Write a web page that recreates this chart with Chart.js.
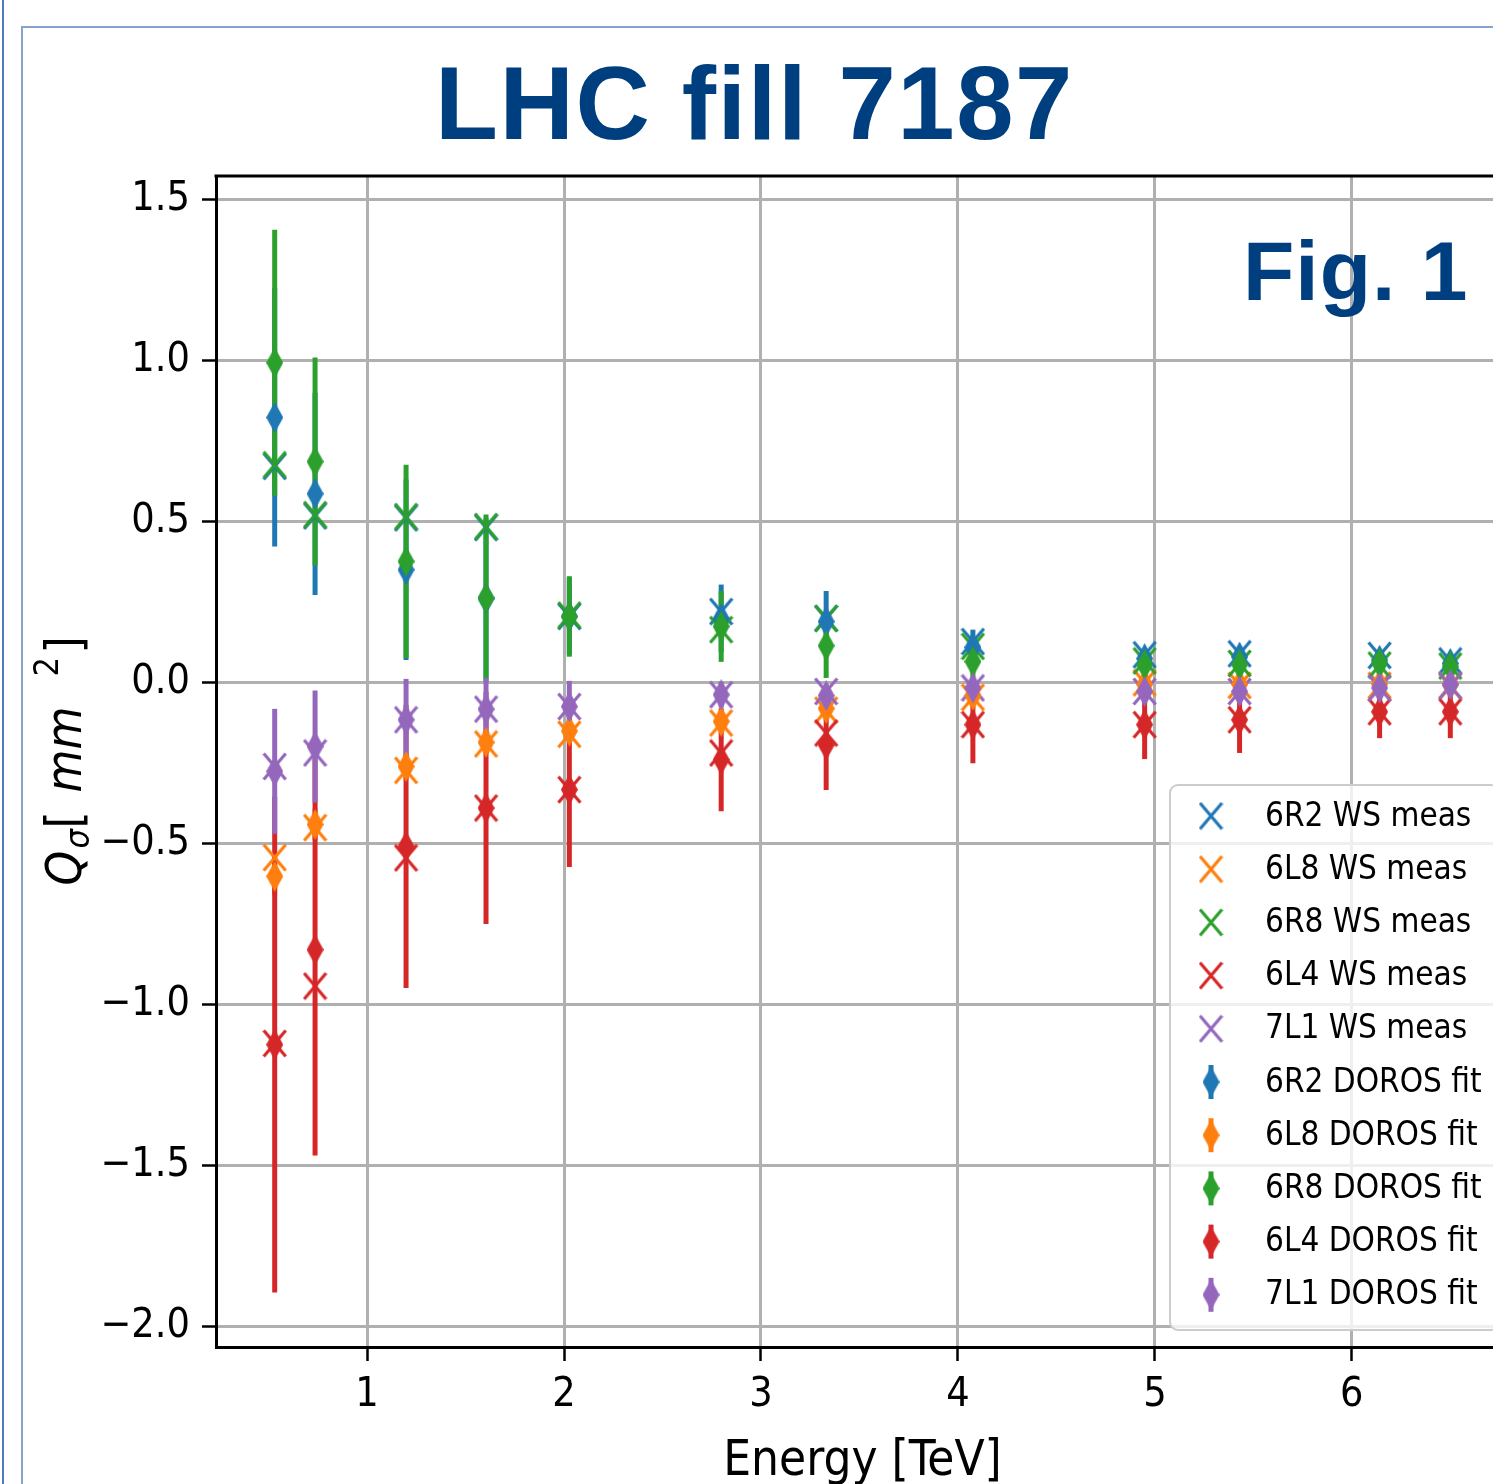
<!DOCTYPE html>
<html>
<head>
<meta charset="utf-8">
<script src="https://cdn.jsdelivr.net/npm/chart.js@4.4.0/dist/chart.umd.min.js"></script>
<style>
html, body { margin: 0; padding: 0; background: #fff; overflow: hidden; width: 1493px; height: 1484px; }
#outerLine { position: absolute; left: 2px; top: 0; width: 2px; height: 1484px; background: #4f7bbd; }
#frame { position: absolute; left: 21px; top: 26px; width: 1600px; height: 1600px; border-left: 2px solid #86a3d0; border-top: 2px solid #86a3d0; }
#slideTitle { position: absolute; left: 435px; top: 52px; font: bold 103px "Liberation Sans", Arial, sans-serif; letter-spacing: 1.6px; line-height: 1; color: #003f7f; white-space: nowrap; }
#figLabel { position: absolute; left: 1243px; top: 229px; font: bold 84px "Liberation Sans", Arial, sans-serif; letter-spacing: 1px; line-height: 1; color: #003f7f; white-space: nowrap; z-index: 2; }
#chart { position: absolute; left: 0; top: 0; }
</style>
</head>
<body>
<div id="outerLine"></div>
<div id="frame"></div>
<div id="slideTitle">LHC fill 7187</div>
<canvas id="chart" width="1540" height="1484"></canvas>
<div id="figLabel">Fig. 1</div>
<script>
// beam energy of each measurement [TeV]
const energies = [0.531, 0.736, 1.198, 1.604, 2.027, 2.798, 3.331, 4.076, 4.948, 5.430, 6.141, 6.500];

const monitors = ['6R2', '6L8', '6R8', '6L4', '7L1'];
const colors = ['#1f77b4', '#ff7f0e', '#2ca02c', '#d62728', '#9467bd'];

// wire scanner measurements
const ws6R2 = [0.672, 0.518, 0.512, 0.482, 0.206, 0.221, 0.200, 0.128, 0.087, 0.090, 0.085, 0.068];
const ws6L8 = [-0.543, -0.450, -0.272, -0.190, -0.160, -0.125, -0.085, -0.045, 0.000, -0.008, -0.008, -0.010];
const ws6R8 = [0.677, 0.522, 0.516, 0.485, 0.210, 0.165, 0.200, 0.113, 0.068, 0.060, 0.055, 0.052];
const ws6L4 = [-1.120, -0.942, -0.544, -0.389, -0.332, -0.218, -0.156, -0.130, -0.130, -0.115, -0.090, -0.090];
const ws7L1 = [-0.260, -0.218, -0.115, -0.082, -0.074, -0.037, -0.027, -0.016, -0.027, -0.027, -0.016, -0.010];

// DOROS fit values and their errors
const fit6R2 = [0.824, 0.587, 0.351, 0.262, 0.206, 0.200, 0.190, 0.110, 0.075, 0.080, 0.070, 0.060];
const err6R2 = [0.401, 0.314, 0.280, 0.250, 0.120, 0.105, 0.095, 0.055, 0.030, 0.030, 0.025, 0.025];
const fit6L8 = [-0.601, -0.440, -0.260, -0.185, -0.150, -0.120, -0.080, -0.040, -0.005, -0.005, -0.005, -0.005];
const err6L8 = [0.060, 0.050, 0.040, 0.035, 0.030, 0.030, 0.025, 0.020, 0.020, 0.020, 0.015, 0.015];
const fit6R8 = [0.994, 0.687, 0.377, 0.263, 0.206, 0.175, 0.115, 0.066, 0.056, 0.056, 0.061, 0.050];
const err6R8 = [0.413, 0.323, 0.300, 0.260, 0.125, 0.110, 0.100, 0.050, 0.030, 0.030, 0.030, 0.040];
const fit6L4 = [-1.124, -0.829, -0.508, -0.389, -0.332, -0.239, -0.193, -0.130, -0.130, -0.115, -0.090, -0.090];
const err6L4 = [0.770, 0.639, 0.440, 0.360, 0.240, 0.160, 0.140, 0.120, 0.107, 0.103, 0.082, 0.082];
const fit7L1 = [-0.275, -0.198, -0.115, -0.082, -0.074, -0.037, -0.040, -0.016, -0.027, -0.027, -0.016, -0.006];
const err7L1 = [0.194, 0.174, 0.127, 0.097, 0.080, 0.040, 0.035, 0.030, 0.030, 0.030, 0.030, 0.030];

const wsValues = [ws6R2, ws6L8, ws6R8, ws6L4, ws7L1];
const fitValues = [fit6R2, fit6L8, fit6R8, fit6L4, fit7L1];
const fitErrors = [err6R2, err6L8, err6R8, err6L4, err7L1];

const xMin = 0.233, xMax = 6.798;
const yMin = -2.063, yMax = 1.574;
const xTickStep = 1, yTickStep = 0.5;

const FONT = '"DejaVu Sans Condensed", "DejaVu Sans"';

// marker images (matplotlib-like 'x' and thin diamond)
function makeCross(color) {
    const c = document.createElement('canvas');
    c.width = 25; c.height = 29;
    const g = c.getContext('2d');
    g.strokeStyle = color;
    g.lineWidth = 3.2;
    g.beginPath();
    g.moveTo(1.5, 1.5); g.lineTo(23.5, 27.5);
    g.moveTo(23.5, 1.5); g.lineTo(1.5, 27.5);
    g.stroke();
    return c;
}

function makeDiamond(color) {
    const c = document.createElement('canvas');
    c.width = 17; c.height = 31;
    const g = c.getContext('2d');
    g.fillStyle = color;
    g.beginPath();
    g.moveTo(8.5, 0); g.lineTo(17, 15.5); g.lineTo(8.5, 31); g.lineTo(0, 15.5);
    g.closePath();
    g.fill();
    return c;
}

function toPoints(ys) {
    return energies.map((e, i) => ({ x: e, y: ys[i] }));
}

const datasets = [];
monitors.forEach((m, i) => {
    datasets.push({
        label: m + ' WS meas',
        data: toPoints(wsValues[i]),
        borderColor: colors[i],
        backgroundColor: colors[i],
        pointStyle: makeCross(colors[i]),
        pointRadius: 10,
        showLine: false
    });
});
monitors.forEach((m, i) => {
    datasets.push({
        label: m + ' DOROS fit',
        data: toPoints(fitValues[i]),
        borderColor: colors[i],
        backgroundColor: colors[i],
        pointStyle: makeDiamond(colors[i]),
        pointRadius: 10,
        showLine: false
    });
});
// later datasets on top
datasets.forEach((ds, i) => { ds.order = 20 - i; });

function errorsFor(index) {
    return index >= monitors.length ? fitErrors[index - monitors.length] : null;
}

// vertical error bars, all below the markers
const errorBarPlugin = {
    id: 'errorBars',
    beforeDatasetsDraw(chart) {
        const { ctx, chartArea } = chart;
        const xs = chart.scales.x, ys = chart.scales.y;
        ctx.save();
        ctx.beginPath();
        ctx.rect(chartArea.left, chartArea.top, chartArea.right - chartArea.left, chartArea.bottom - chartArea.top);
        ctx.clip();
        chart.data.datasets.forEach((ds, di) => {
            const errs = errorsFor(di);
            if (!errs) return;
            ctx.strokeStyle = ds.borderColor;
            ctx.lineWidth = 5;
            ds.data.forEach((p, i) => {
                const px = xs.getPixelForValue(p.x);
                ctx.beginPath();
                ctx.moveTo(px, ys.getPixelForValue(p.y + errs[i]));
                ctx.lineTo(px, ys.getPixelForValue(p.y - errs[i]));
                ctx.stroke();
            });
        });
        ctx.restore();
    }
};

// top spine, mathtext-style y label, framed legend
const decorPlugin = {
    id: 'decor',
    afterDraw(chart) {
        const { ctx, chartArea } = chart;
        ctx.save();

        ctx.strokeStyle = '#000';
        ctx.lineWidth = 3;
        ctx.beginPath();
        ctx.moveTo(chartArea.left - 1.5, chartArea.top);
        ctx.lineTo(chartArea.right + 1.5, chartArea.top);
        ctx.stroke();

        // y axis label: Q_sigma [ mm ^2]
        const cy = (chartArea.top + chartArea.bottom) / 2;
        ctx.translate(81, cy);
        ctx.rotate(-Math.PI / 2);
        ctx.fillStyle = '#000';
        ctx.textBaseline = 'alphabetic';
        ctx.textAlign = 'left';
        const pieces = [
            { t: 'Q', f: 'italic 49px ' + FONT, x: -124, dy: 0 },
            { t: '\u03c3', f: 'italic 34px ' + FONT, x: -87, dy: 8 },
            { t: '[', f: '49px ' + FONT, x: -67, dy: 0 },
            { t: 'mm', f: 'italic 49px ' + FONT, x: -31, dy: 0 },
            { t: '2', f: '34px ' + FONT, x: 85, dy: -23 },
            { t: ']', f: '49px ' + FONT, x: 108, dy: 0 }
        ];
        pieces.forEach(p => {
            ctx.font = p.f;
            ctx.fillText(p.t, p.x, p.dy);
        });
        ctx.setTransform(1, 0, 0, 1, 0, 0);

        // legend
        const right = chartArea.right - 10;
        const bottom = chartArea.bottom - 17;
        const left = right - 329;
        const top = bottom - 545;
        ctx.beginPath();
        ctx.roundRect(left, top, right - left, bottom - top, 8);
        ctx.fillStyle = 'rgba(255,255,255,0.8)';
        ctx.fill();
        ctx.strokeStyle = '#cccccc';
        ctx.lineWidth = 2;
        ctx.stroke();

        ctx.font = '33px ' + FONT;
        ctx.textBaseline = 'middle';
        ctx.fillStyle = '#000';
        chart.data.datasets.forEach((ds, i) => {
            const ry = top + 31 + i * 53.2;
            const mx = left + 41;
            if (errorsFor(i)) {
                ctx.strokeStyle = ds.borderColor;
                ctx.lineWidth = 5;
                ctx.beginPath();
                ctx.moveTo(mx, ry - 17);
                ctx.lineTo(mx, ry + 17);
                ctx.stroke();
            }
            const img = ds.pointStyle;
            ctx.drawImage(img, mx - img.width / 2, ry - img.height / 2);
            ctx.fillStyle = '#000';
            ctx.fillText(ds.label, left + 95, ry + 1);
        });
        ctx.restore();
    }
};

const axisFont = { family: FONT, size: 41 };

new Chart(document.getElementById('chart').getContext('2d'), {
    type: 'scatter',
    data: { datasets: datasets },
    options: {
        responsive: false,
        animation: false,
        events: [],
        layout: { padding: { top: 176, right: 31, bottom: 0, left: 0 } },
        plugins: {
            legend: { display: false },
            tooltip: { enabled: false },
            title: { display: false }
        },
        scales: {
            x: {
                type: 'linear',
                min: xMin,
                max: xMax,
                afterFit: function(scale) { scale.height = 137; },
                ticks: {
                    stepSize: xTickStep,
                    includeBounds: false,
                    autoSkip: false,
                    maxRotation: 0,
                    color: '#000',
                    font: axisFont,
                    padding: 10,
                    callback: function(value) { return String(value); }
                },
                grid: { color: '#b0b0b0', lineWidth: 3, tickColor: '#000', tickLength: 14, tickWidth: 2.5 },
                border: { color: '#000', width: 3 },
                title: {
                    display: true,
                    text: 'Energy [TeV]',
                    color: '#000',
                    font: { family: FONT, size: 49 },
                    padding: { top: 0, bottom: -8 }
                }
            },
            y: {
                type: 'linear',
                min: yMin,
                max: yMax,
                afterFit: function(scale) { scale.width = 216; },
                ticks: {
                    stepSize: yTickStep,
                    includeBounds: false,
                    autoSkip: false,
                    color: '#000',
                    font: axisFont,
                    padding: 12,
                    callback: function(value) {
                        return (value < -1e-9 ? '\u2212' : '') + Math.abs(value).toFixed(1);
                    }
                },
                grid: { color: '#b0b0b0', lineWidth: 3, tickColor: '#000', tickLength: 14, tickWidth: 2.5 },
                border: { color: '#000', width: 3 }
            }
        }
    },
    plugins: [errorBarPlugin, decorPlugin]
});
</script>
</body>
</html>
